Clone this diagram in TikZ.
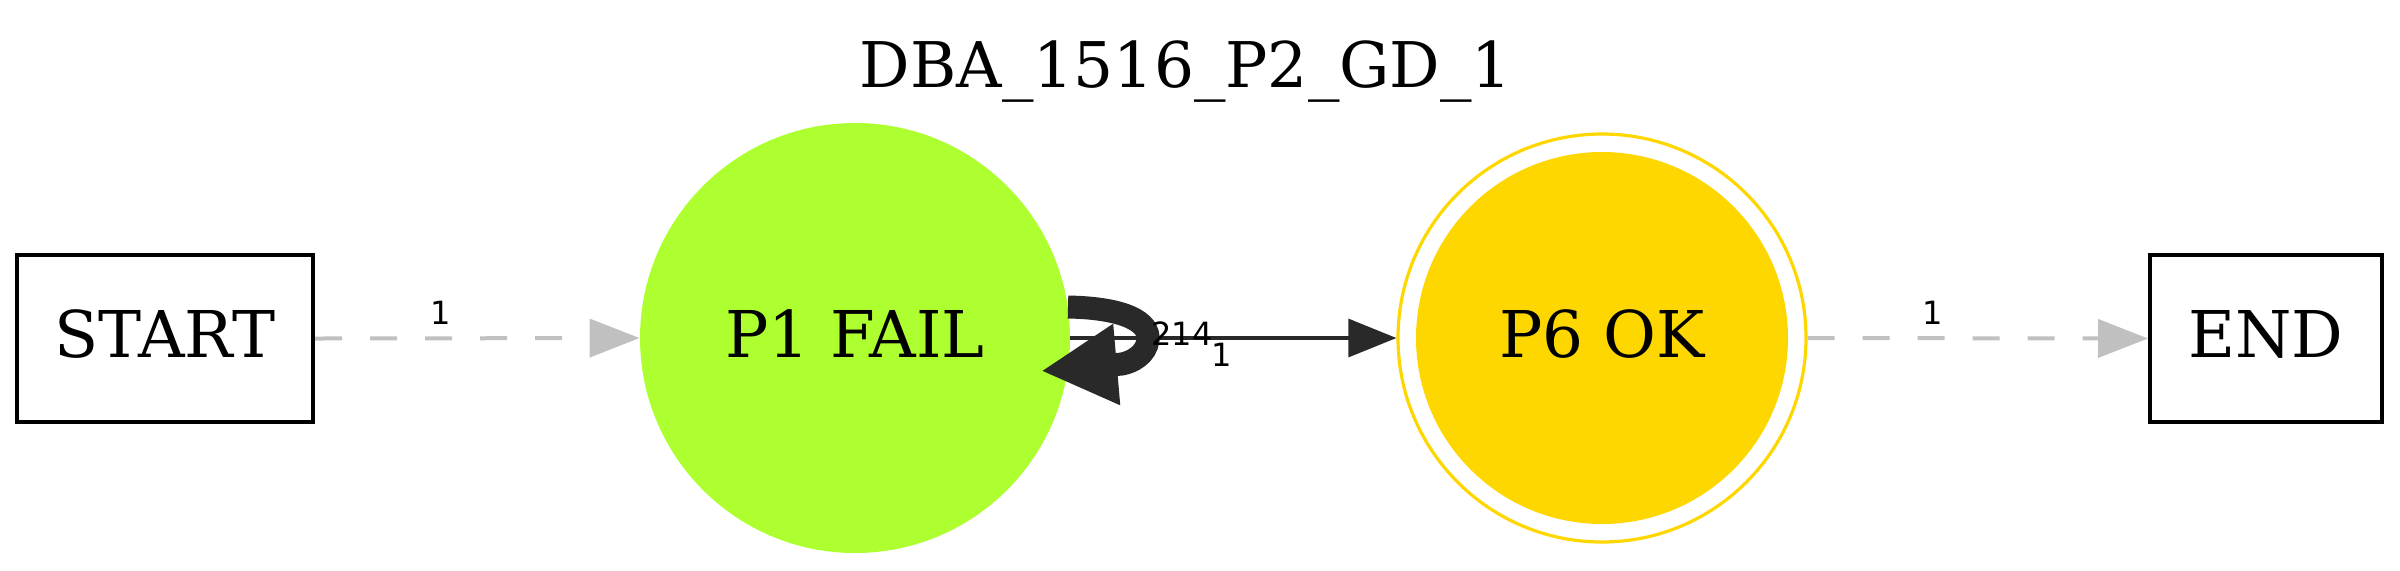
\documentclass[tikz,border=0pt]{standalone}
\usepackage{fontspec}
\setmainfont{DejaVu Serif}
\newfontfamily\lblfont{DejaVu Sans}
\usetikzlibrary{arrows.meta}
\definecolor{greenyel}{HTML}{ADFF2F}
\definecolor{goldc}{HTML}{FFD700}
\definecolor{grayedge}{HTML}{C0C0C0}
\definecolor{darkedge}{HTML}{292929}
\tikzset{
  nodefont/.style={font=\fontsize{32.25pt}{38pt}\selectfont, text height=23.5pt, text depth=4.5pt},
  boxnode/.style={nodefont, draw=black, line width=2pt, rectangle, minimum width=148pt, minimum height=83.5pt, inner sep=0pt},
  failnode/.style={nodefont, circle, fill=greenyel, minimum size=215pt, inner sep=0pt},
  okouter/.style={circle, draw=goldc, line width=1.6pt, minimum size=204pt, inner sep=0pt},
  okinner/.style={nodefont, circle, fill=goldc, minimum size=186pt, inner sep=0pt},
  grayedgestyle/.style={draw=grayedge, line width=2pt, dash pattern=on 13.5pt off 14pt, -{Triangle[length=25pt,width=19pt]}, grayedge},
  darkedgestyle/.style={draw=darkedge, line width=1.6pt, -{Triangle[length=24pt,width=19pt]}, darkedge},
  loopedgestyle/.style={draw=darkedge, line width=11.5pt, -{Triangle[length=38pt,width=38pt]}, darkedge},
  elabel/.style={font=\lblfont\fontsize{16pt}{18pt}\selectfont, text=black, inner sep=0pt},
  titlestyle/.style={font=\fontsize{31.5pt}{38pt}\selectfont, anchor=base, inner sep=0pt},
}
\begin{document}
\begin{tikzpicture}[x=0.5pt, y=-0.5pt]
\useasboundingbox (0,0) rectangle (2400,570);
\node[titlestyle] (title) at (1186,87) {DBA\_1516\_P2\_GD\_1};
\node[boxnode] (start) at (165,338.5) {START};
\node[failnode] (p1) at (855,338) {P1 FAIL};
\node[okouter] (p6out) at (1602,338) {};
\node[okinner] (p6) at (1602,338) {P6 OK};
\node[boxnode, minimum width=116pt] (end) at (2266,338.5) {END};
\coordinate (loopstart) at (1068,307);
\coordinate (loopbase) at (1122,364);
\coordinate (looptip) at (1041,371);
\draw[grayedgestyle] (start.east) -- (p1.west);
\draw[grayedgestyle] (p6out.east) -- (end.west);
\draw[darkedgestyle] (p1.east) -- (p6out.west);
\draw[loopedgestyle] (loopstart) .. controls (1125,308) and (1150,322) .. (1148,340) .. controls (1146,355) and (1132,362) .. (loopbase) -- (looptip);
\node[elabel] (l1) at (441,313) {1};
\node[elabel] (l2) at (1933,313) {1};
\node[elabel] (l3) at (1182,334) {214};
\node[elabel] (l4) at (1222,355) {1};
\end{tikzpicture}
\end{document}
